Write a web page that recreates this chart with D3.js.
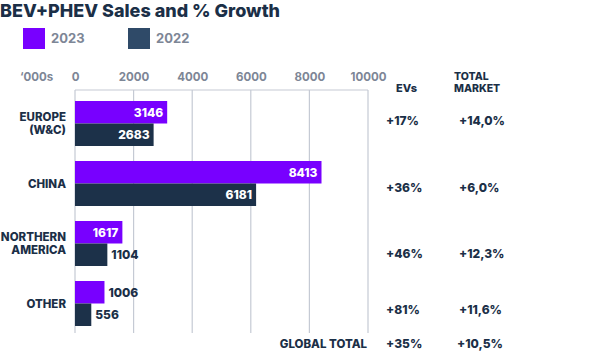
<!DOCTYPE html>
<html>
<head>
<meta charset="utf-8">
<script src="https://cdn.jsdelivr.net/npm/d3@7"></script>
<style>
  body { margin: 0; background: #fff; }
  text { font-family: Inter, "Open Sans", sans-serif; }
</style>
</head>
<body>
<script>
// data //////////////////////////////////////////////
var regions = ["EUROPE\n(W&C)", "CHINA", "NORTHERN\nAMERICA", "OTHER"];
var sales2023 = [3146, 8413, 1617, 1006];
var sales2022 = [2683, 6181, 1104, 556];
var evGrowth = ["+17%", "+36%", "+46%", "+81%"];
var marketGrowth = ["+14,0%", "+6,0%", "+12,3%", "+11,6%"];
var globalEv = "+35%";
var globalMarket = "+10,5%";
var ticks = [0, 2000, 4000, 6000, 8000, 10000];
var years = ["2023", "2022"];

var purple = "#7800ff";
var navy = "#1c3149";
var ink = "#1b2f47";
var grey = "#7d8696";

var svg = d3.select("body").append("svg")
  .attr("width", 600)
  .attr("height", 352);

// title + legend
svg.append("text")
  .attr("x", 0).attr("y", 17)
  .attr("font-size", 18).attr("font-weight", 800)
  .attr("fill", ink)
  .text("BEV+PHEV Sales and % Growth");

var legX = [23, 128];
var legCol = [purple, "#2f4a68"];
years.forEach(function(y, i) {
  svg.append("rect")
    .attr("x", legX[i]).attr("y", 28)
    .attr("width", 22).attr("height", 21)
    .attr("fill", legCol[i]);
  svg.append("text")
    .attr("x", legX[i] + 28).attr("y", 43)
    .attr("font-size", 13).attr("font-weight", 700)
    .attr("fill", grey)
    .text(y);
});

// scales
var x = d3.scaleLinear().domain([0, 10000]).range([75, 368]);
var y = d3.scaleBand().domain(regions).range([101, 326]).paddingInner(0.25);
var sub = d3.scaleBand().domain(years).range([0, y.bandwidth()]);

// grid
var gridTop = 90, gridBottom = 333;
svg.append("line")
  .attr("x1", x(0)).attr("x2", x(10000))
  .attr("y1", gridTop).attr("y2", gridTop)
  .attr("stroke", "#c5cad4").attr("stroke-width", 1.2);
svg.selectAll(".grid").data(ticks).enter().append("line")
  .attr("x1", function(d) { return x(d); })
  .attr("x2", function(d) { return x(d); })
  .attr("y1", gridTop).attr("y2", gridBottom)
  .attr("stroke", "#c5cad4").attr("stroke-width", 1.2);

// axis on top
var xAxis = d3.axisTop(x).tickValues(ticks).tickFormat(d3.format("d")).tickSize(0).tickPadding(0);
var ax = svg.append("g")
  .attr("transform", "translate(0,81)")
  .call(xAxis);
ax.select(".domain").remove();
ax.selectAll("text")
  .attr("font-size", 11.5).attr("font-weight", 700)
  .attr("fill", grey)
  .style("font-family", "Inter, sans-serif");

svg.append("text")
  .attr("x", 20).attr("y", 81)
  .attr("font-size", 11.5).attr("font-weight", 700)
  .attr("fill", grey)
  .text("\u2018000s");

// bars
var rows = regions.map(function(r, i) {
  return { region: r, vals: [sales2023[i], sales2022[i]] };
});

var groups = svg.selectAll(".grp").data(rows).enter().append("g")
  .attr("transform", function(d) { return "translate(0," + y(d.region) + ")"; });

groups.each(function(d) {
  var g = d3.select(this);
  d.vals.forEach(function(v, j) {
    var yy = sub(years[j]);
    g.append("rect")
      .attr("x", x(0)).attr("y", yy)
      .attr("width", x(v) - x(0))
      .attr("height", sub.bandwidth())
      .attr("fill", j == 0 ? purple : navy);
    var inside = v > 1500;
    g.append("text")
      .attr("x", inside ? x(v) - 4 : x(v) + 4)
      .attr("y", yy + sub.bandwidth() / 2 + 4.5)
      .attr("text-anchor", inside ? "end" : "start")
      .attr("font-size", 12).attr("font-weight", 800)
      .attr("fill", inside ? "#fff" : ink)
      .text(v);
  });

  // region label
  var lines = d.region.split("\n");
  var t = g.append("text")
    .attr("x", 66)
    .attr("text-anchor", "end")
    .attr("font-size", 11.5).attr("font-weight", 800)
    .attr("fill", ink);
  lines.forEach(function(l, k) {
    t.append("tspan")
      .attr("x", 66)
      .attr("y", y.bandwidth() / 2 + 4 + (k - (lines.length - 1) / 2) * 13)
      .text(l);
  });
});

// growth columns
var colEv = 386, colMk = 459;
svg.append("text").attr("x", 396).attr("y", 92)
  .attr("font-size", 11).attr("font-weight", 800).attr("fill", ink).text("EVs");
svg.append("text").attr("x", 454).attr("y", 79.5)
  .attr("font-size", 10.5).attr("font-weight", 800).attr("fill", ink).text("TOTAL");
svg.append("text").attr("x", 454).attr("y", 92)
  .attr("font-size", 10.5).attr("font-weight", 800).attr("fill", ink).text("MARKET");

var growthY = [125, 192, 258, 314];
rows.forEach(function(d, i) {
  svg.append("text").attr("x", colEv).attr("y", growthY[i])
    .attr("font-size", 12).attr("font-weight", 800).attr("fill", ink)
    .text(evGrowth[i]);
  svg.append("text").attr("x", colMk).attr("y", growthY[i])
    .attr("font-size", 12).attr("font-weight", 800).attr("fill", ink)
    .text(marketGrowth[i]);
});

svg.append("text").attr("x", 367).attr("y", 348)
  .attr("text-anchor", "end")
  .attr("font-size", 11.5).attr("font-weight", 800).attr("fill", ink)
  .text("GLOBAL TOTAL");
svg.append("text").attr("x", colEv).attr("y", 348)
  .attr("font-size", 12).attr("font-weight", 800).attr("fill", ink)
  .text(globalEv);
svg.append("text").attr("x", colMk - 2).attr("y", 348)
  .attr("font-size", 12).attr("font-weight", 800).attr("fill", ink)
  .text(globalMarket);
</script>
</body>
</html>
